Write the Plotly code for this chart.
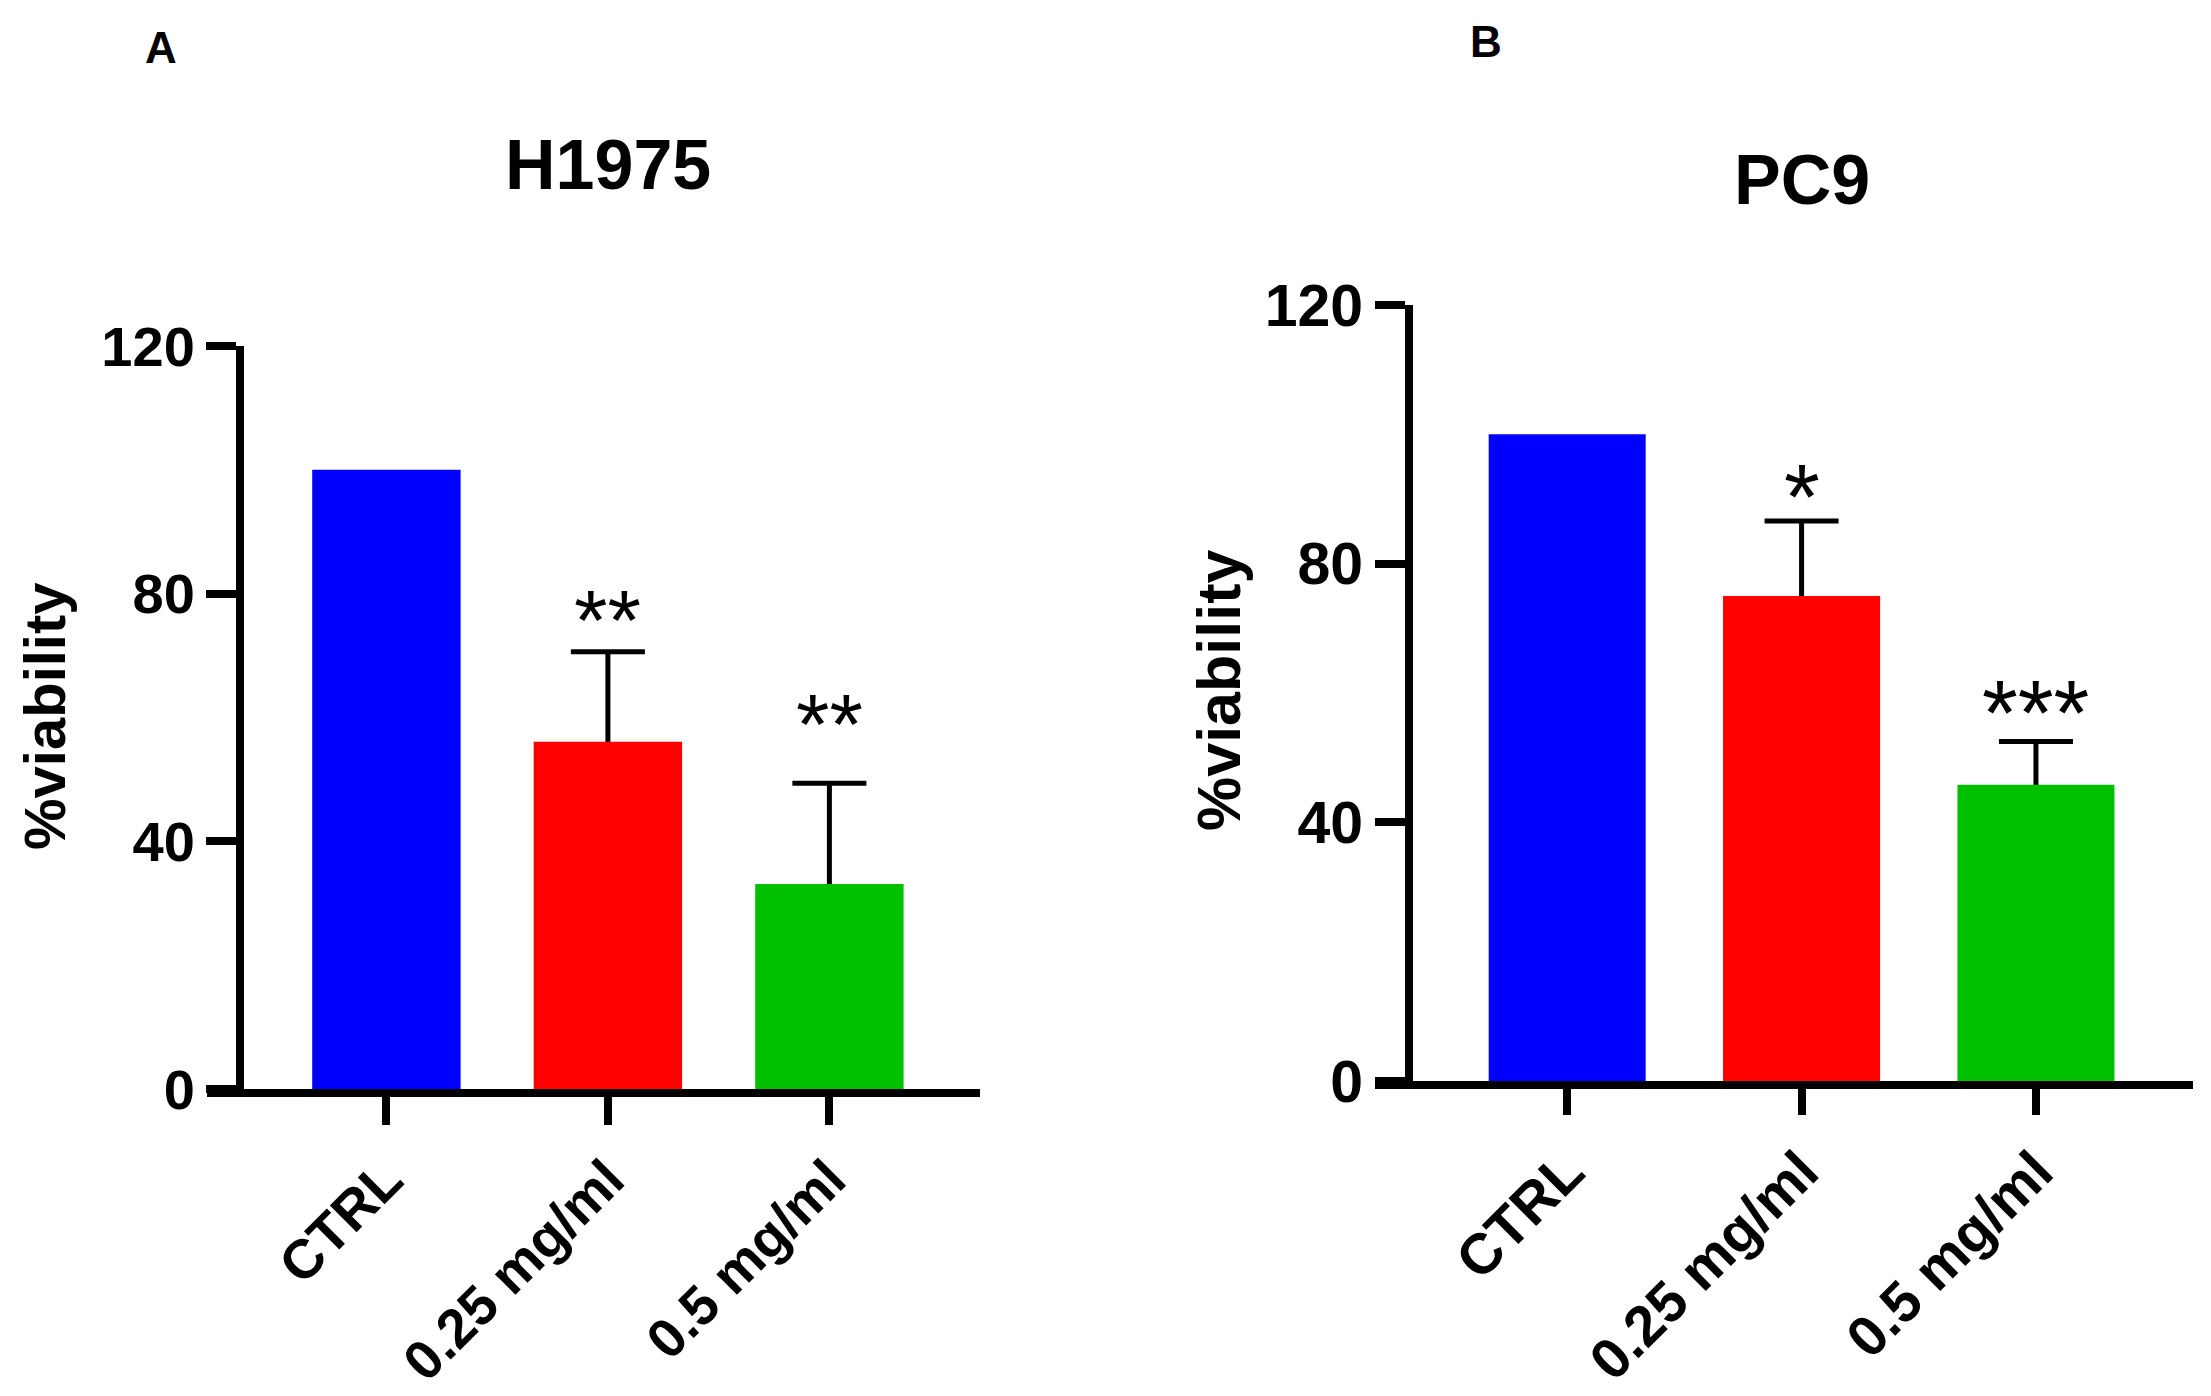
import plotly.graph_objects as go

# data (% viability, mean + SD)
categories = ["CTRL", "0.25 mg/ml", "0.5 mg/ml"]
h1975_mean = [100.0, 56.1, 33.1]
h1975_sd = [0.0, 14.5, 16.3]
h1975_stars = ["", "**", "**"]
pc9_mean = [100.0, 75.0, 45.8]
pc9_sd = [0.0, 11.6, 6.7]
pc9_stars = ["", "*", "***"]
y_ticks = [0, 40, 80, 120]

bar_colors = ["#0000ff", "#ff0000", "#00c000"]
FONT = "Liberation Sans, Arial, sans-serif"
W, H = 2211, 1396
OFF = 8  # page body margin


def xp(px):
    return (px - OFF) / W


def yp(py):
    return 1 - (py - OFF) / H


fig = go.Figure()

panels = [
    # means, sds, stars, x axis, y axis, star size, star shifts
    (h1975_mean, h1975_sd, h1975_stars, "x", "y", 86, [0, 32, 59]),
    (pc9_mean, pc9_sd, pc9_stars, "x2", "y2", 92, [0, 24, 29]),
]

for means, sds, stars, xa, ya, ss, shifts in panels:
    keep = [i for i, s in enumerate(sds) if s > 0]
    # transparent bars carrying the error bars, so the coloured bars hide the lower half
    fig.add_trace(go.Bar(x=[categories[i] for i in keep], y=[means[i] for i in keep],
                         xaxis=xa, yaxis=ya, width=0.67,
                         marker=dict(color="rgba(0,0,0,0)", line=dict(width=0)),
                         error_y=dict(type="data", array=[sds[i] for i in keep],
                                      color="black", thickness=5, width=37),
                         hoverinfo="skip"))
    fig.add_trace(go.Bar(x=categories, y=means, xaxis=xa, yaxis=ya, width=0.67,
                         marker=dict(color=bar_colors, line=dict(width=0))))
    for i, st in enumerate(stars):
        if st:
            fig.add_annotation(x=categories[i], y=means[i] + sds[i], xref=xa, yref=ya,
                               text=st, showarrow=False, yanchor="middle",
                               yshift=shifts[i],
                               font=dict(family=FONT, size=ss, color="black"))

axis_common = dict(showline=True, linecolor="black", linewidth=8, ticks="outside",
                   tickwidth=8, tickcolor="black", showgrid=False, zeroline=False,
                   automargin=False)

fig.update_layout(
    width=W, height=H,
    margin=dict(l=0, r=0, t=0, b=0),
    paper_bgcolor="white", plot_bgcolor="white",
    showlegend=False, barmode="overlay",
    font=dict(family=FONT, color="black"),
    xaxis=dict(domain=[xp(207), xp(980)], range=[-0.81, 2.68], anchor="y",
               type="category", categoryorder="array", categoryarray=categories,
               ticklen=28, tickangle=-45,
               tickfont=dict(family=FONT, size=55, weight="bold"), **axis_common),
    yaxis=dict(domain=[yp(1089), yp(346)], range=[0, 120],
               anchor="free", position=xp(240), tickvals=y_ticks, ticklen=30,
               tickfont=dict(family=FONT, size=56, weight="bold"), **axis_common),
    xaxis2=dict(domain=[xp(1375), xp(2193)], range=[-0.82, 2.67], anchor="y2",
                type="category", categoryorder="array", categoryarray=categories,
                ticklen=26, tickangle=-45,
                tickfont=dict(family=FONT, size=57, weight="bold"), **axis_common),
    yaxis2=dict(domain=[yp(1081), yp(305)], range=[0, 120],
                anchor="free", position=xp(1409), tickvals=y_ticks, ticklen=30,
                tickfont=dict(family=FONT, size=59, weight="bold"), **axis_common),
)

# panel letters, titles and y axis titles
texts = [
    ("A", 161, 47, 44, 0),
    ("B", 1486, 41, 44, 0),
    ("H1975", 608, 165, 70, 0),
    ("PC9", 1802, 180, 70, 0),
    ("%viability", 44, 716, 58, -90),
    ("%viability", 1219, 691, 61, -90),
]
for txt, px, py, size, ang in texts:
    fig.add_annotation(x=xp(px), y=yp(py), xref="paper", yref="paper",
                       text=txt, showarrow=False, textangle=ang,
                       xanchor="center", yanchor="middle",
                       font=dict(family=FONT, size=size, weight="bold", color="black"))

fig.write_html("out.html")
